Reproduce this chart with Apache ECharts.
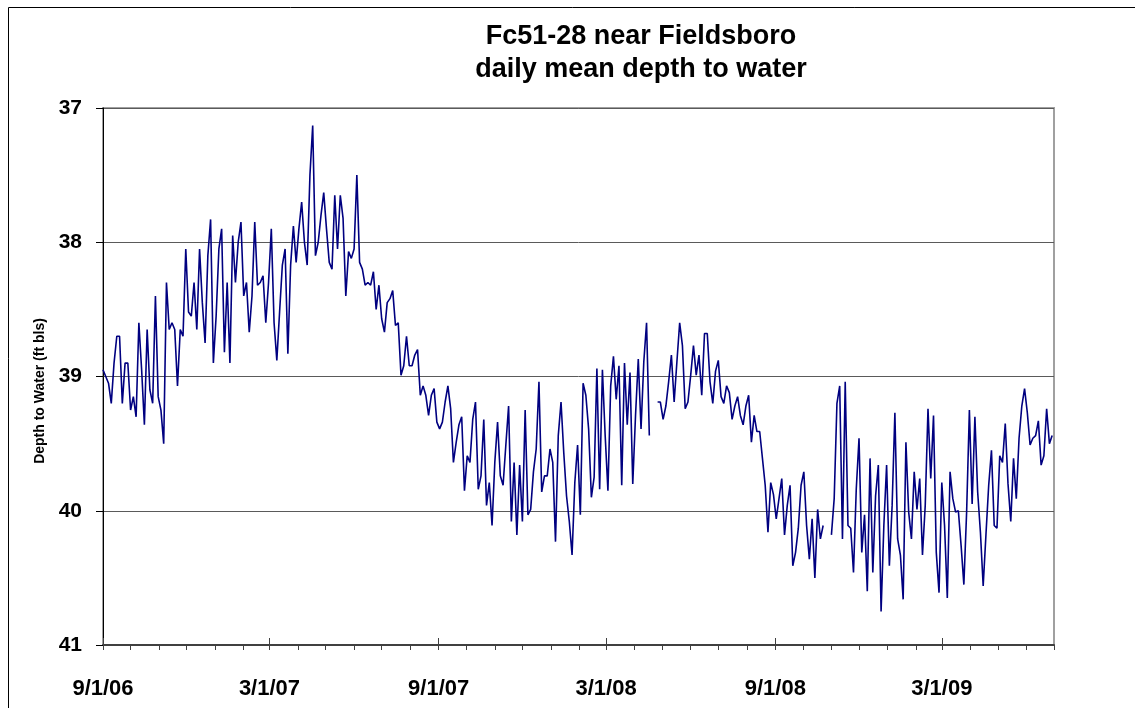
<!DOCTYPE html>
<html>
<head>
<meta charset="utf-8">
<script src="https://cdn.jsdelivr.net/npm/echarts@6/dist/echarts.min.js"></script>
<style>
  html, body { margin: 0; padding: 0; background: #fff; }
  #container { width: 1135px; height: 708px; }
</style>
</head>
<body>
<div id="container"></div>
<script>
  // daily mean depth to water, every 3 days starting 9/1/06 (null = gap in record)
  const stepDays = 3
  const depthSep06 = [38.95, 39.0, 39.05, 39.2, 38.9, 38.7, 38.7, 39.2, 38.9, 38.9, 39.25, 39.15, 39.3, 38.6, 38.95, 39.36, 38.65, 39.1, 39.2, 38.4, 39.15, 39.25, 39.5, 38.3, 38.65, 38.6, 38.65, 39.07, 38.65, 38.7, 38.05, 38.52, 38.55, 38.3, 38.65, 38.05, 38.45, 38.75, 38.1, 37.83, 38.9, 38.55, 38.05]
  const depthJan07 = [37.9, 38.82, 38.3, 38.9, 37.95, 38.3, 38.0, 37.85, 38.4, 38.3, 38.67, 38.4, 37.85, 38.32, 38.3, 38.25, 38.6, 38.3, 37.9, 38.6, 38.88, 38.52, 38.17, 38.05, 38.83, 38.17, 37.88, 38.15, 37.9, 37.7, 38.0, 38.17, 37.5, 37.13, 38.1, 38.0, 37.8, 37.63, 37.9, 38.15, 38.2, 37.65, 38.05, 37.65]
  const depthMay07 = [37.82, 38.4, 38.07, 38.12, 38.05, 37.5, 38.15, 38.2, 38.32, 38.3, 38.32, 38.22, 38.5, 38.32, 38.57, 38.67, 38.45, 38.42, 38.36, 38.62, 38.6, 38.99, 38.92, 38.7, 38.92, 38.92, 38.84, 38.8, 39.14, 39.07, 39.14, 39.29, 39.14, 39.09, 39.34, 39.39, 39.34, 39.19, 39.07, 39.24, 39.64, 39.49, 39.36]
  const depthOct07 = [39.3, 39.85, 39.59, 39.64, 39.32, 39.19, 39.84, 39.74, 39.32, 39.96, 39.79, 40.11, 39.64, 39.34, 39.74, 39.81, 39.51, 39.22, 40.08, 39.64, 40.18, 39.66, 40.08, 39.25, 40.03, 39.99, 39.71, 39.54, 39.04, 39.86, 39.74, 39.74, 39.54, 39.64, 40.23, 39.44, 39.19, 39.57, 39.89, 40.08, 40.33, 39.79, 39.51, 40.03]
  const depthFeb08 = [39.05, 39.14, 39.39, 39.9, 39.75, 38.94, 39.84, 38.95, 39.44, 39.85, 39.07, 38.85, 39.17, 38.92, 39.81, 38.9, 39.36, 38.97, 39.8, 39.29, 38.87, 39.39, 38.89, 38.6, 39.44, null, null, 39.19, 39.19, 39.32, 39.22, 39.04, 38.84, 39.19, 38.89, 38.6, 38.77, 39.24, 39.19, 38.99, 38.77, 38.99, 38.84]
  const depthJun08 = [39.14, 38.68, 38.68, 39.04, 39.2, 38.96, 38.88, 39.15, 39.2, 39.07, 39.12, 39.32, 39.22, 39.15, 39.29, 39.36, 39.22, 39.14, 39.49, 39.29, 39.41, 39.41, 39.61, 39.81, 40.16, 39.79, 39.88, 40.06, 39.91, 39.76, 40.18, 39.96, 39.81, 40.41, 40.31, 40.13, 39.81, 39.71, 40.11, 40.36, 40.06, 40.5, 39.99, 40.21]
  const depthNov08 = [40.11, null, null, 40.18, 39.91, 39.2, 39.07, 40.21, 39.04, 40.11, 40.13, 40.46, 39.84, 39.46, 40.31, 40.03, 40.6, 39.61, 40.46, 39.89, 39.66, 40.75, 40.11, 39.66, 40.41, 39.96, 39.27, 40.21, 40.33, 40.66, 39.49, 40.01, 40.21, 39.71, 39.99, 39.76, 40.33, 39.96, 39.24, 39.76, 39.29, 40.31, 40.61, 39.79]
  const depthMar09 = [40.11, 40.65, 39.71, 39.91, 40.01, 40.0, 40.26, 40.55, 40.01, 39.25, 39.95, 39.3, 39.86, 40.16, 40.56, 40.18, 39.81, 39.55, 40.11, 40.13, 39.59, 39.64, 39.35, 39.8, 40.08, 39.61, 39.91, 39.46, 39.22, 39.09, 39.27, 39.51, 39.46, 39.44, 39.33, 39.66, 39.59, 39.24, 39.5, 39.44]

  const majorTicks = ['2006-09-01', '2007-03-01', '2007-09-01', '2008-03-01', '2008-09-01', '2009-03-01']
  const yTicks = [37, 38, 39, 40, 41]

  function toTime(s) {
    const p = s.split('-')
    return new Date(+p[0], +p[1] - 1, +p[2]).getTime()
  }

  const start = toTime('2006-09-01')
  const end = toTime('2009-07-01')
  const depth = [].concat(depthSep06, depthJan07, depthMay07, depthOct07, depthFeb08, depthJun08, depthNov08, depthMar09)
  const seriesData = depth.map(function(v, i) {
    const d = new Date(2006, 8, 1 + i * stepDays)
    return [d.getTime(), v]
  })

  // month starts for the small outside ticks
  const monthTicks = []
  for (let m = 0; ; m++) {
    const t = new Date(2006, 8 + m, 1).getTime()
    if (t > end) break
    monthTicks.push(t)
  }

  const font = 'Liberation Sans, Arial, sans-serif'
  const myChart = echarts.init(document.getElementById('container'))
  myChart.setOption({
    animation: false,
    backgroundColor: '#fff',
    graphic: [
      {
        type: 'rect',
        shape: { x: 8.5, y: 7.5, width: 1200, height: 800 },
        style: { fill: 'none', stroke: '#000', lineWidth: 1 }
      },
      {
        type: 'text',
        x: 641,
        y: 37,
        style: {
          text: 'Fc51-28 near Fieldsboro',
          font: 'bold 27px ' + font,
          fill: '#000',
          textAlign: 'center',
          textVerticalAlign: 'middle'
        }
      },
      {
        type: 'text',
        x: 641,
        y: 70,
        style: {
          text: 'daily mean depth to water',
          font: 'bold 27px ' + font,
          fill: '#000',
          textAlign: 'center',
          textVerticalAlign: 'middle'
        }
      },
      {
        type: 'text',
        x: 40,
        y: 391,
        rotation: Math.PI / 2,
        style: {
          text: 'Depth to Water (ft bls)',
          font: 'bold 14px ' + font,
          fill: '#000',
          textAlign: 'center',
          textVerticalAlign: 'middle'
        }
      }
    ],
    grid: {
      left: 103,
      right: 81,
      top: 108,
      bottom: 63,
      show: true,
      borderColor: '#a0a0a0',
      borderWidth: 2,
      backgroundColor: '#fff'
    },
    xAxis: [{
      type: 'value',
      position: 'bottom',
      min: start,
      max: end,
      axisLine: { show: true, lineStyle: { color: '#404040', width: 2 } },
      axisTick: {
        show: true,
        inside: true,
        length: 7,
        customValues: majorTicks.map(toTime),
        lineStyle: { color: '#404040', width: 1 }
      },
      axisLabel: {
        customValues: majorTicks.map(toTime),
        margin: 33,
        color: '#000',
        fontFamily: font,
        fontWeight: 'bold',
        fontSize: 22,
        formatter: function(v) {
          const d = new Date(v)
          return (d.getMonth() + 1) + '/' + d.getDate() + '/' + String(d.getFullYear()).slice(2)
        }
      },
      splitLine: { show: false }
    }, {
      type: 'value',
      position: 'bottom',
      min: start,
      max: end,
      axisLine: { show: false },
      axisTick: {
        show: true,
        inside: false,
        length: 5,
        customValues: monthTicks,
        lineStyle: { color: '#404040', width: 1 }
      },
      axisLabel: { show: false },
      splitLine: { show: false }
    }],
    yAxis: {
      type: 'value',
      inverse: true,
      min: 37,
      max: 41,
      interval: 1,
      axisLine: { show: true, lineStyle: { color: '#000', width: 1 } },
      axisTick: { show: true, inside: false, length: 7, lineStyle: { color: '#000' } },
      axisLabel: {
        margin: 21,
        color: '#000',
        fontFamily: font,
        fontWeight: 'bold',
        fontSize: 21,
        formatter: function(v) { return yTicks.indexOf(v) >= 0 ? String(v) : '' }
      },
      splitLine: { show: true, lineStyle: { color: '#5a5a5a', width: 1 } }
    },
    series: [{
      name: 'Depth to water',
      type: 'line',
      xAxisIndex: 0,
      data: seriesData,
      showSymbol: false,
      connectNulls: false,
      lineStyle: { color: '#000080', width: 1.6 },
      itemStyle: { color: '#000080' }
    }]
  })
</script>
</body>
</html>
